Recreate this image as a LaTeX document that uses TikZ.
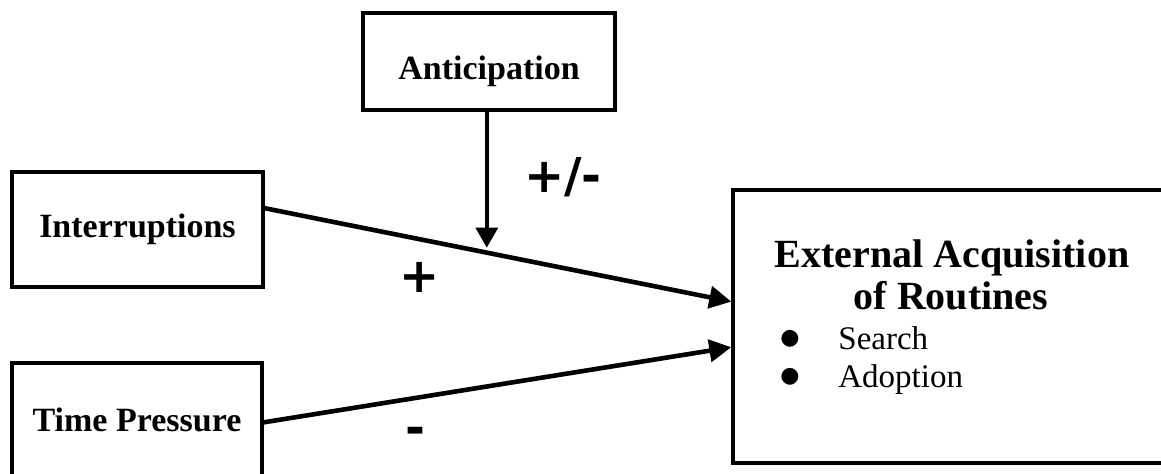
\documentclass[tikz,border=0pt]{standalone}
\usepackage{fontspec}
\setmainfont{Liberation Serif}
\newfontfamily\signfont{DejaVu Sans}
\usetikzlibrary{arrows.meta,calc}
\begin{document}
\begin{tikzpicture}[x=0.5pt,y=-0.5pt,
  box/.style={draw,line width=1.7pt,rectangle,inner sep=0pt,
    font=\bfseries\fontsize{17}{20}\selectfont},
  heading/.style={inner sep=0pt,font=\bfseries\fontsize{20}{24}\selectfont},
  item/.style={inner sep=0pt,font=\fontsize{16.5}{20}\selectfont},
  dot/.style={inner sep=0pt,font=\signfont\fontsize{11}{11}\selectfont},
  conn/.style={line width=2.3pt,-{Triangle[length=11pt,width=11pt]}},
  modarrow/.style={line width=1.7pt,-{Triangle[length=10pt,width=11pt]}},
  sign/.style={inner sep=0pt,font=\signfont\bfseries\fontsize{24}{28}\selectfont}]
\useasboundingbox (0,0) rectangle (1161,474);
\clip (0,0) rectangle (1161,474);

% boxes
\node[box,minimum width=126pt,minimum height=48.5pt,text height=18.5pt,text depth=0pt]
  (ant) at (489,61.5) {Anticipation};
\node[box,minimum width=125.5pt,minimum height=57.5pt] (intr) at (137.5,229.5) {Interruptions};
\node[box,minimum width=125pt,minimum height=57pt] (time) at (137,420) {Time Pressure};
\node[box,minimum width=219pt,minimum height=136.5pt] (ext) at (952,326.5) {};

% outcome text
\node[heading,anchor=base] (h1) at (952,268) {External Acquisition};
\node[heading,anchor=base] (h2) at (951,310) {of Routines};
\node[dot] (b1) at (790,339) {●};
\node[item,anchor=base west] (s1) at (838,350) {Search};
\node[dot] (b2) at (790,377) {●};
\node[item,anchor=base west] (s2) at (838,388) {Adoption};

% connectors
\draw[conn] ($(intr.north east)!0.32!(intr.south east)$)
  -- ($(ext.north west)!0.41!(ext.south west)$) coordinate[pos=0.476] (mod);
\draw[conn] ($(time.north east)!0.52!(time.south east)$)
  -- ($(ext.north west)!0.575!(ext.south west)$);
\draw[modarrow,shorten >=2.5pt] (ant.south -| mod) -- (mod);

% signs
\node[sign] (pm) at (563,177) {+/-};
\node[sign] (p1) at (420,277) {+};
\node[sign] (m1) at (415,436) {-};
\end{tikzpicture}
\end{document}
